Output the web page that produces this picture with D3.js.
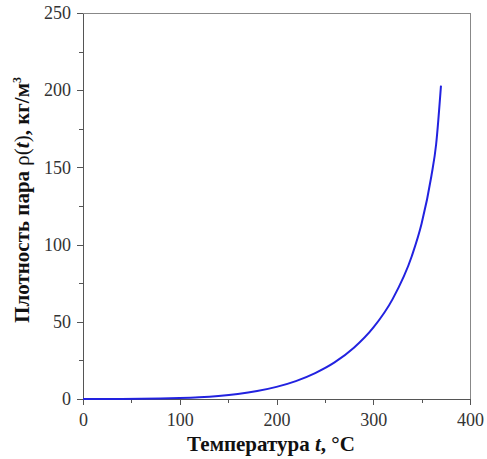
<!DOCTYPE html>
<meta charset="utf-8">
<style>
  body { margin: 0; background: #fff; }
  .axis text { font: 18px "Liberation Serif", "Times New Roman", serif; fill: #333; }
  .axis path, .axis line { stroke: #555; stroke-width: 1px; shape-rendering: crispEdges; }
  .title { font: bold 21px "Liberation Serif", "Times New Roman", serif; fill: #111; }
</style>
<svg width="487" height="459"></svg>
<script src="https://d3js.org/d3.v7.min.js"></script>
<script>
  // saturated steam density, kg/m3
  var temps = [0, 20, 40, 60, 80, 100, 120, 140, 160, 180, 200, 220, 240, 260, 280, 300, 320, 340, 350, 360, 365, 370];
  var dens = [0.005, 0.017, 0.051, 0.13, 0.29, 0.60, 1.12, 1.97, 3.26, 5.16, 7.86, 11.6, 16.8, 23.7, 33.2, 46.2, 64.7, 92.8, 113.6, 144.1, 165, 203];
  var xTicks = [0, 100, 200, 300, 400];
  var yTicks = [0, 50, 100, 150, 200, 250];

  var svg = d3.select("svg"),
    margin = { top: 13, right: 17, bottom: 60, left: 83 },
    width = +svg.attr("width") - margin.left - margin.right,
    height = +svg.attr("height") - margin.top - margin.bottom;

  var x = d3.scaleLinear().domain([0, 400]).range([0, width]),
    y = d3.scaleLinear().domain([0, 250]).range([height, 0]);

  var g = svg.append("g")
    .attr("transform", "translate(" + margin.left + "," + margin.top + ")");

  // frame top/right
  g.append("path")
    .attr("d", "M0,0H" + width + "V" + height)
    .attr("fill", "none")
    .attr("stroke", "#888")
    .attr("shape-rendering", "crispEdges");

  // minor ticks
  g.append("g").attr("class", "axis")
    .attr("transform", "translate(0," + height + ")")
    .call(d3.axisBottom(x).tickValues(d3.range(0, 401, 50)).tickSize(4).tickFormat(""))
    .select(".domain").remove();
  g.append("g").attr("class", "axis")
    .call(d3.axisLeft(y).tickValues(d3.range(0, 251, 25)).tickSize(4).tickFormat(""))
    .select(".domain").remove();

  g.append("g").attr("class", "axis")
    .attr("transform", "translate(0," + height + ")")
    .call(d3.axisBottom(x).tickValues(xTicks).tickSize(6).tickSizeOuter(0).tickPadding(8));

  g.append("g").attr("class", "axis")
    .call(d3.axisLeft(y).tickValues(yTicks).tickSize(6).tickSizeOuter(0).tickPadding(6));

  var line = d3.line()
    .x(function (d, i) { return x(temps[i]); })
    .y(function (d) { return y(d); })
    .curve(d3.curveMonotoneX);

  g.append("path")
    .datum(dens)
    .attr("fill", "none")
    .attr("stroke", "#2222e0")
    .attr("stroke-width", 2)
    .attr("d", line);

  // axis titles
  var xt = svg.append("text").attr("class", "title")
    .attr("x", 271).attr("y", 451).attr("text-anchor", "middle");
  xt.append("tspan").text("Температура ");
  xt.append("tspan").attr("font-style", "italic").text("t");
  xt.append("tspan").text(", °C");

  var yt = svg.append("text").attr("class", "title")
    .attr("transform", "translate(29,200) rotate(-90)")
    .attr("text-anchor", "middle");
  yt.append("tspan").text("Плотность пара ");
  yt.append("tspan").attr("font-weight", "normal").text("ρ(");
  yt.append("tspan").attr("font-style", "italic").text("t");
  yt.append("tspan").attr("font-weight", "normal").text(")");
  yt.append("tspan").text(", кг/м");
  yt.append("tspan").attr("font-size", "12px").attr("dy", "-8").text("3");
</script>
